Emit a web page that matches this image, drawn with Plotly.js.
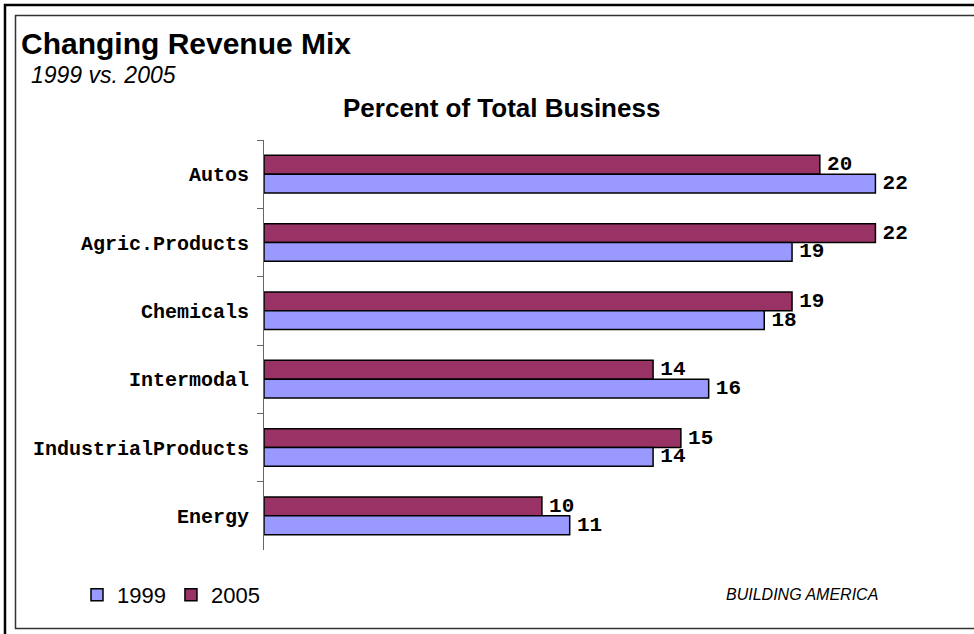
<!DOCTYPE html>
<html>
<head>
<meta charset="utf-8">
<script src="https://cdn.plot.ly/plotly-3.0.1.min.js"></script>
<style>html,body{margin:0;padding:0;background:#fff;}#chart{width:974px;height:634px;}</style>
</head>
<body>
<div id="chart"></div>
<script>
const categories = ["Autos", "Agric.Products", "Chemicals", "Intermodal", "IndustrialProducts", "Energy"];
const values1999 = [22, 19, 18, 16, 14, 11];
const values2005 = [20, 22, 19, 14, 15, 10];
const seriesNames = ["1999", "2005"];

// plot-area geometry (pixels)
const W = 974, H = 634;
const L = 264, R = 931, T = 140, B = 550;
const px = x => (x - L) / (R - L);
const py = y => (B - y) / (B - T);

const mono = "Liberation Mono, Courier New, monospace";
const sans = "Liberation Sans, Arial, sans-serif";

const traces = [
  {
    type: "bar", orientation: "h", name: seriesNames[1],
    y: categories, x: values2005,
    marker: {color: "#993366", line: {color: "#000", width: 1.5}},
    texttemplate: "\u2009%{x}", textposition: "outside", constraintext: "none",
    textfont: {family: mono, size: 21, color: "#000", weight: "bold"},
    cliponaxis: false, hoverinfo: "none"
  },
  {
    type: "bar", orientation: "h", name: seriesNames[0],
    y: categories, x: values1999,
    marker: {color: "#9999FF", line: {color: "#000", width: 1.5}},
    texttemplate: "\u2009%{x}", textposition: "outside", constraintext: "none",
    textfont: {family: mono, size: 21, color: "#000", weight: "bold"},
    cliponaxis: false, hoverinfo: "none"
  }
];

const layout = {
  width: W, height: H,
  margin: {l: L, r: W - R, t: T, b: H - B, pad: 0},
  paper_bgcolor: "#fff", plot_bgcolor: "#fff",
  barmode: "group", bargap: 0.45, bargroupgap: 0,
  showlegend: true,
  legend: {
    orientation: "h", traceorder: "reversed",
    x: px(77), xanchor: "left", y: py(595), yanchor: "middle",
    font: {family: sans, size: 22, color: "#000"},
    bgcolor: "rgba(0,0,0,0)"
  },
  xaxis: {range: [0, 24], visible: false, fixedrange: true},
  yaxis: {
    type: "category", autorange: "reversed",
    showline: true, linecolor: "#666", linewidth: 1,
    ticks: "outside", ticklen: 6, tickcolor: "#666", tickson: "boundaries",
    ticklabelstandoff: 10,
    showgrid: false, zeroline: false,
    tickfont: {family: mono, size: 20, color: "#000", weight: "bold"}
  },
  font: {family: sans, color: "#000"},
  annotations: [
    {text: "<b>Changing Revenue Mix</b>", xref: "paper", yref: "paper",
     x: px(20), y: py(43), xanchor: "left", yanchor: "middle", showarrow: false,
     borderpad: 0, font: {family: sans, size: 30, color: "#000"}},
    {text: "<i>1999 vs. 2005</i>", xref: "paper", yref: "paper",
     x: px(30), y: py(75), xanchor: "left", yanchor: "middle", showarrow: false,
     borderpad: 0, font: {family: sans, size: 23, color: "#000"}},
    {text: "<b>Percent of Total Business</b>", xref: "paper", yref: "paper",
     x: px(501), y: py(108), xanchor: "center", yanchor: "middle", showarrow: false,
     font: {family: sans, size: 26, color: "#000"}},
    {text: "<i>BUILDING AMERICA</i>", xref: "paper", yref: "paper",
     x: px(802), y: py(594), xanchor: "center", yanchor: "middle", showarrow: false,
     font: {family: sans, size: 16, color: "#000"}}
  ],
  shapes: [
    {type: "rect", xref: "paper", yref: "paper", x0: px(5), x1: px(990), y0: py(5), y1: py(650),
     line: {color: "#000", width: 2.5}, fillcolor: "rgba(0,0,0,0)", layer: "above"},
    {type: "rect", xref: "paper", yref: "paper", x0: px(15.5), x1: px(990), y0: py(15.5), y1: py(628.5),
     line: {color: "#333", width: 1.5}, fillcolor: "rgba(0,0,0,0)", layer: "above"}
  ]
};

Plotly.newPlot("chart", traces, layout, {displayModeBar: false, staticPlot: true});
</script>
</body>
</html>
